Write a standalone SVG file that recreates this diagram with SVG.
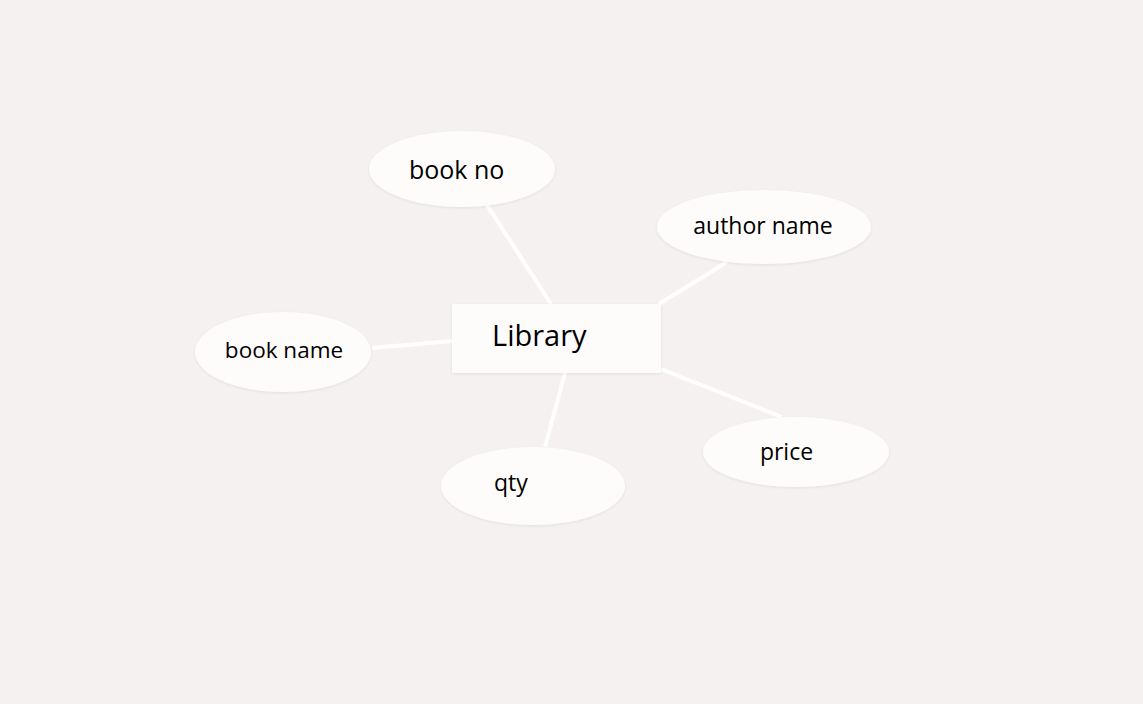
<svg xmlns="http://www.w3.org/2000/svg" width="1143" height="704" viewBox="0 0 1143 704">
<defs>
<filter id="sh" x="-10%" y="-10%" width="120%" height="130%">
<feGaussianBlur in="SourceAlpha" stdDeviation="1.5"/>
<feOffset dy="1"/>
<feComponentTransfer><feFuncA type="linear" slope="0.08"/></feComponentTransfer>
<feMerge><feMergeNode/><feMergeNode in="SourceGraphic"/></feMerge>
</filter>
</defs>
<style>
.n{fill:#fefcfa;filter:url(#sh)}
.t{font-family:"Open Sans","Noto Sans",sans-serif;fill:#000;font-size:22.5px}
.c line{stroke:#ffffff;stroke-width:4}
</style>
<rect width="1143" height="704" fill="#f5f1f0"/>
<g class="c" id="connectors">
<line x1="487" y1="205" x2="551" y2="304"/>
<line x1="727" y1="262" x2="659" y2="304"/>
<line x1="372" y1="348" x2="452" y2="341"/>
<line x1="565" y1="373" x2="545" y2="447"/>
<line x1="661" y1="369" x2="782" y2="417"/>
</g>
<g id="library">
<rect class="n" x="452" y="304" width="209" height="69"/>
<text class="t" x="492" y="346" style="font-size:29px">Library</text>
</g>
<g id="bookno">
<ellipse class="n" cx="462" cy="169" rx="93" ry="38"/>
<text class="t" x="409" y="179" style="font-size:25px">book no</text>
</g>
<g id="authorname">
<ellipse class="n" cx="764" cy="227" rx="107" ry="37"/>
<text class="t" x="763" y="234" text-anchor="middle" style="font-size:23px">author name</text>
</g>
<g id="bookname">
<ellipse class="n" cx="283" cy="352" rx="88" ry="40"/>
<text class="t" x="284" y="358" text-anchor="middle">book name</text>
</g>
<g id="qty">
<ellipse class="n" cx="533" cy="486" rx="92" ry="39"/>
<text class="t" x="494" y="491" style="font-size:23px">qty</text>
</g>
<g id="price">
<ellipse class="n" cx="796" cy="452" rx="93" ry="35"/>
<text class="t" x="786.5" y="460" text-anchor="middle" style="font-size:23px">price</text>
</g>
</svg>
